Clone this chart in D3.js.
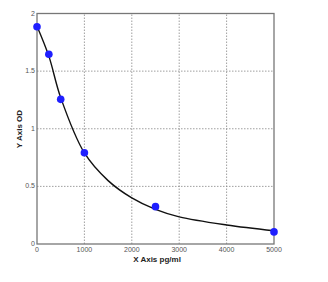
<!DOCTYPE html>
<html>
<head>
<meta charset="utf-8">
<script src="https://cdn.jsdelivr.net/npm/d3@7"></script>
<style>
  body { margin: 0; background: #fff; }
  svg text { font-family: "Liberation Sans", Arial, sans-serif; }
</style>
</head>
<body>
<div id="chart"></div>
<script>
// standard points
const conc = [0, 250, 500, 1000, 2500, 5000];
const od = [1.885, 1.646, 1.255, 0.792, 0.324, 0.105];

// fitted curve
const fitX = [0, 250, 500, 1000, 1500, 2000, 2500, 3000, 4000, 5000];
const fitY = [1.89, 1.63, 1.27, 0.79, 0.55, 0.40, 0.30, 0.235, 0.165, 0.115];

const xTicks = [0, 1000, 2000, 3000, 4000, 5000];
const yTicks = [0, 0.5, 1, 1.5, 2];

const width = 328, height = 282;
const margin = { top: 13.5, right: 54, bottom: 38, left: 37 };

const svg = d3.select("#chart").append("svg")
  .attr("width", width)
  .attr("height", height);

const x = d3.scaleLinear().domain([0, 5000]).range([margin.left, width - margin.right]);
const y = d3.scaleLinear().domain([0, 2]).range([height - margin.bottom, margin.top]);

// grid
svg.append("g").selectAll("line.gx")
  .data(xTicks.slice(1, -1))
  .enter().append("line")
  .attr("x1", d => x(d)).attr("x2", d => x(d))
  .attr("y1", y(0)).attr("y2", y(2))
  .attr("stroke", "#888").attr("stroke-width", 0.8)
  .attr("stroke-dasharray", "1.5,1.5");

svg.append("g").selectAll("line.gy")
  .data(yTicks.slice(1, -1))
  .enter().append("line")
  .attr("x1", x(0)).attr("x2", x(5000))
  .attr("y1", d => y(d)).attr("y2", d => y(d))
  .attr("stroke", "#888").attr("stroke-width", 0.8)
  .attr("stroke-dasharray", "1.5,1.5");

// frame
svg.append("rect")
  .attr("x", x(0)).attr("y", y(2))
  .attr("width", x(5000) - x(0)).attr("height", y(0) - y(2))
  .attr("fill", "none").attr("stroke", "#777").attr("stroke-width", 1.3);

// tick labels
svg.append("g").selectAll("text")
  .data(xTicks)
  .enter().append("text")
  .attr("x", d => x(d)).attr("y", y(0) + 8)
  .attr("text-anchor", "middle")
  .attr("font-size", 7).attr("fill", "#555")
  .text(d => d);

svg.append("g").selectAll("text")
  .data(yTicks)
  .enter().append("text")
  .attr("x", x(0) - 2).attr("y", d => y(d) + 2)
  .attr("text-anchor", "end")
  .attr("font-size", 7).attr("fill", "#555")
  .text(d => d);

// curve
const line = d3.line()
  .x((d, i) => x(fitX[i]))
  .y(d => y(d))
  .curve(d3.curveCatmullRom.alpha(0.5));

svg.append("path")
  .attr("d", line(fitY))
  .attr("fill", "none")
  .attr("stroke", "#111")
  .attr("stroke-width", 1.4);

// points
svg.append("g").selectAll("circle")
  .data(od)
  .enter().append("circle")
  .attr("cx", (d, i) => x(conc[i]))
  .attr("cy", d => y(d))
  .attr("r", 3.8)
  .attr("fill", "#1f1fff");

// axis titles
svg.append("text")
  .attr("x", 157).attr("y", 262)
  .attr("text-anchor", "middle")
  .attr("font-size", 8).attr("font-weight", "bold").attr("fill", "#222")
  .text("X  Axis pg/ml");

svg.append("text")
  .attr("transform", "translate(22,129) rotate(-90)")
  .attr("text-anchor", "middle")
  .attr("font-size", 8).attr("font-weight", "bold").attr("fill", "#222")
  .text("Y  Axis OD");
</script>
</body>
</html>
